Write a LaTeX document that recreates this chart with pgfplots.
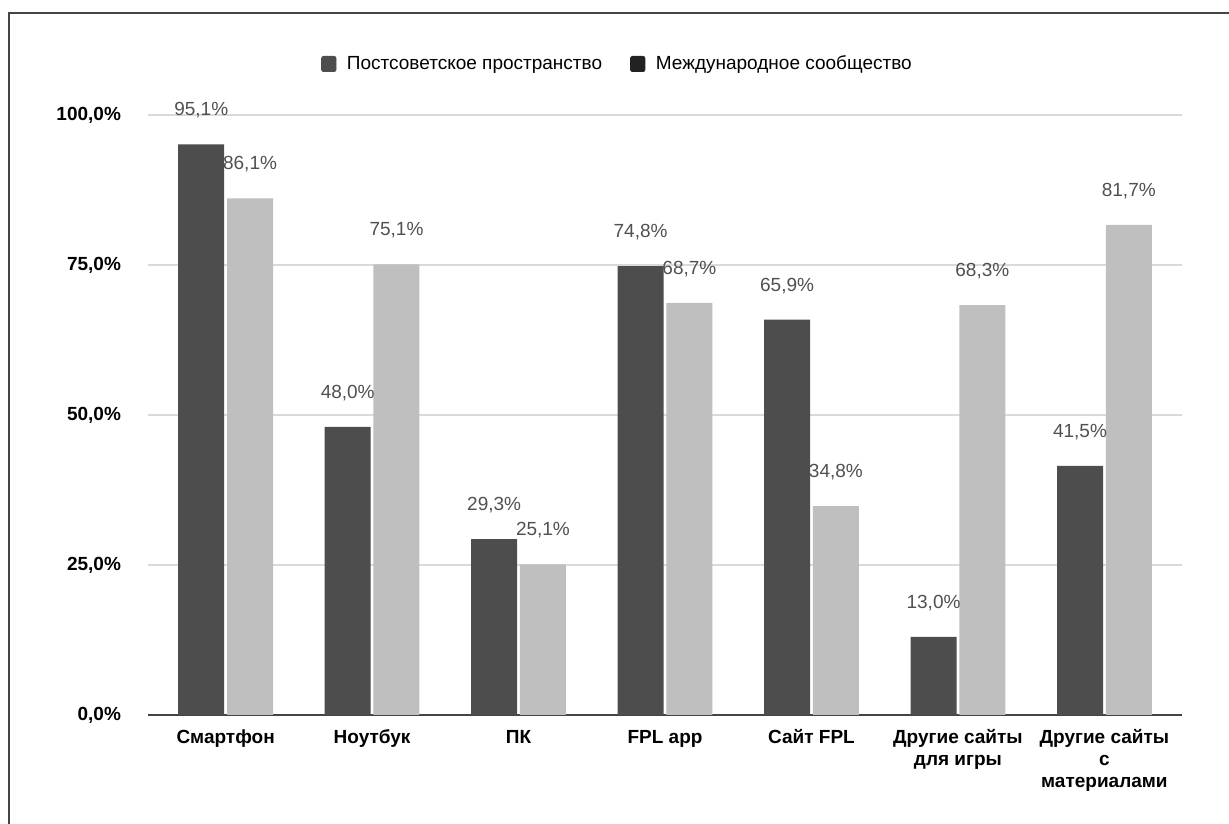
\documentclass[border=0pt]{standalone}
\usepackage{pgfplots}
\pgfplotsset{compat=1.18}
\usepackage{fontspec}
\setmainfont{Liberation Sans}
\definecolor{cdark}{HTML}{4D4D4D}
\definecolor{clight}{HTML}{BFBFBF}
\definecolor{cblack}{HTML}{222222}
\definecolor{cgrid}{HTML}{DADADA}
\definecolor{cframe}{HTML}{444444}
\definecolor{cval}{HTML}{505050}
\begin{document}
\begin{tikzpicture}
\path[use as bounding box] (0,0) rectangle (614.5pt,411.5pt);
\draw[cframe, line width=1.2pt] (4.5pt,-1pt) -- (4.5pt,405pt) -- (616pt,405pt);
\begin{axis}[
  at={(74pt,54pt)}, anchor=south west,
  width=517pt, height=300pt, scale only axis,
  /pgf/number format/assume math mode=true,
  xmin=-0.53, xmax=6.53, ymin=0, ymax=100,
  clip=false,
  axis x line=bottom, axis y line=left,
  x axis line style={-, line width=1.1pt, color=cframe},
  y axis line style={draw=none},
  major tick length=0pt,
  ymajorgrids, grid style={cgrid, line width=0.6pt},
  ytick={0,25,50,75,100},
  yticklabel={\pgfmathprintnumber[fixed,fixed zerofill,precision=1,use comma]{\tick}\%},
  yticklabel style={font=\fontsize{9.5}{11}\selectfont\bfseries, text=black, xshift=-10pt},
  xtick={0,...,6},
  xticklabels={\strut Смартфон,\strut Ноутбук,\strut ПК,\strut FPL app,\strut Сайт FPL,{\strut Другие сайты\\для игры},{\strut Другие сайты\\с\\материалами}},
  xticklabel style={font=\fontsize{9.5}{11}\selectfont\bfseries, text=black, align=center, yshift=-3pt},
  ybar, bar width=23pt,
  nodes near coords={\pgfmathprintnumber[fixed,fixed zerofill,precision=1,use comma]{\pgfplotspointmeta}\%},
  every node near coord/.append style={font=\fontsize{9.5}{11}\selectfont, text=cval, yshift=9.5pt},
  legend style={at={(0.455,1.085)}, anchor=center, draw=none, fill=none,
    font=\fontsize{9.5}{11}\selectfont, legend columns=2,
    /tikz/every even column/.append style={column sep=12pt}},
  legend image code/.code={\draw[#1, rounded corners=1pt] (-3pt,-3.8pt) rectangle (4.2pt,3.8pt); \path (7.5pt,0pt);},
]
\addlegendimage{fill=cdark, draw=cdark}
\addlegendentry{Постсоветское пространство}
\addlegendimage{fill=cblack, draw=cblack}
\addlegendentry{Международное сообщество}
\addplot[fill=cdark, draw=none, bar shift=-12.2pt, forget plot] coordinates {
(0,95.1) (1,48.0) (2,29.3) (3,74.8) (4,65.9) (5,13.0) (6,41.5)};
\addplot[fill=clight, draw=none, bar shift=12.2pt, forget plot] coordinates {
(0,86.1) (1,75.1) (2,25.1) (3,68.7) (4,34.8) (5,68.3) (6,81.7)};
\end{axis}
\end{tikzpicture}
\end{document}
